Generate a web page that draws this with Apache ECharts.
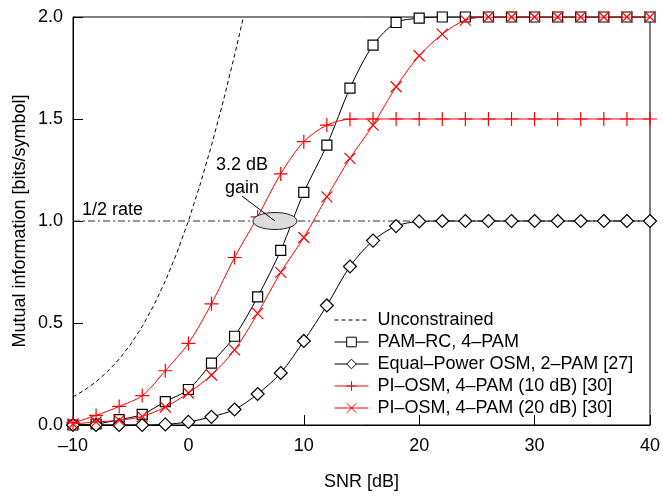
<!DOCTYPE html>
<html>
<head>
<meta charset="utf-8">
<script src="https://cdn.jsdelivr.net/npm/echarts@6/dist/echarts.min.js"></script>
<style>
html,body{margin:0;padding:0;background:#fff;}
#c{width:663px;height:496px;}
</style>
</head>
<body>
<div id="c"></div>
<script>
// SNR grid (dB) for the marked curves
const snr = [-10,-8,-6,-4,-2,0,2,4,6,8,10,12,14,16,18,20,22,24,26,28,30,32,34,36,38,40];
const pamRC = [0.0,0.005,0.026,0.052,0.115,0.174,0.303,0.435,0.628,0.856,1.14,1.372,1.651,1.862,1.973,1.994,2.0,2.0,2.0,2.0,2.0,2.0,2.0,2.0,2.0,2.0];
const eqOSM = [0.0,0.0,0.0,0.0,0.003,0.015,0.04,0.076,0.152,0.255,0.412,0.586,0.777,0.904,0.975,0.998,1.0,1.0,1.0,1.0,1.0,1.0,1.0,1.0,1.0,1.0];
const pi10 = [0.01,0.047,0.091,0.144,0.266,0.40,0.594,0.821,1.02,1.231,1.389,1.47,1.499,1.5,1.5,1.5,1.5,1.5,1.5,1.5,1.5,1.5,1.5,1.5,1.5,1.5];
const pi20 = [0.005,0.015,0.023,0.042,0.088,0.157,0.245,0.368,0.547,0.748,0.919,1.118,1.307,1.47,1.658,1.81,1.916,1.985,2.0,2.0,2.0,2.0,2.0,2.0,2.0,2.0];
// Unconstrained curve (dashed)
const uncX = [-10,-9,-8,-7,-6,-5,-4,-3,-2,-1,0,1,2,3,4,4.77];
const uncY = [0.138,0.171,0.212,0.262,0.323,0.396,0.483,0.586,0.706,0.843,1.0,1.176,1.37,1.583,1.812,2.0];
// half-rate reference line
const halfRateX = [-10,40];
const halfRateY = [1.0,1.0];
const legendNames = ['Unconstrained','PAM\u2013RC, 4\u2013PAM','Equal\u2013Power OSM, 2\u2013PAM [27]','PI\u2013OSM, 4\u2013PAM (10 dB) [30]','PI\u2013OSM, 4\u2013PAM (20 dB) [30]'];
const xTicks = [-10,0,10,20,30,40];
const yTicks = [0,0.5,1.0,1.5,2.0];
// annotation (data coords)
const gainCenter = [7.5,1.0];

const zip = (xs, ys) => xs.map((x,i)=>[x,ys[i]]);
const FONT = '"Liberation Sans", Arial, Helvetica, sans-serif';
const FS = 18;
const plusPath = 'path://M0,5 L10,5 M5,0 L5,10';
const crossPath = 'path://M0,0 L10,10 M10,0 L0,10';

const chart = echarts.init(document.getElementById('c'), null, {renderer:'canvas'});
const option = {
  animation:false,
  backgroundColor:'#fff',
  textStyle:{fontFamily:FONT},
  grid:{left:73,right:10,top:17,bottom:68,show:true,borderColor:'#000',borderWidth:1,backgroundColor:'transparent'},
  xAxis:{type:'value',min:-10,max:40,interval:10,
    name:'SNR [dB]',nameLocation:'middle',nameGap:48,nameMoveOverlap:false,
    nameTextStyle:{fontSize:FS,color:'#000',fontFamily:FONT},
    axisLine:{onZero:false,lineStyle:{color:'#000',width:1}},
    axisTick:{inside:true,length:10,lineStyle:{color:'#000'}},
    axisLabel:{fontSize:FS,color:'#000',margin:12,fontFamily:FONT,formatter:v=>String(v).replace('-','\u2013')},
    splitLine:{show:false}},
  yAxis:{type:'value',min:0,max:2,interval:0.5,
    name:'Mutual information [bits/symbol]',nameLocation:'middle',nameGap:44,nameMoveOverlap:false,
    nameTextStyle:{fontSize:FS,color:'#000',fontFamily:FONT},
    axisLine:{onZero:false,lineStyle:{color:'#000',width:1}},
    axisTick:{inside:true,length:10,lineStyle:{color:'#000'}},
    axisLabel:{fontSize:FS,color:'#000',margin:10,fontFamily:FONT,formatter:v=>v.toFixed(1)},
    splitLine:{show:false}},
  legend:{orient:'vertical',left:329,top:306,itemWidth:34,itemHeight:12,itemGap:4,
    data:[{name:legendNames[0],itemStyle:{opacity:0}}].concat(legendNames.slice(1)),
    lineStyle:{width:1},
    itemStyle:{borderWidth:1},
    textStyle:{fontSize:FS,lineHeight:18,color:'#000',fontFamily:FONT,padding:[0,0,0,4]}},
  series:[
    {name:'__half',type:'line',data:zip(halfRateX,halfRateY),showSymbol:false,symbol:'none',silent:true,
      lineStyle:{color:'#333',width:1,type:[7,3,2,3]},z:1},
    {name:legendNames[0],type:'line',data:zip(uncX,uncY),symbol:'none',
      lineStyle:{color:'#000',width:1,type:[4,3]},itemStyle:{color:'#000'},z:2},
    {name:legendNames[1],type:'line',data:zip(snr,pamRC),symbol:'rect',symbolSize:10,smooth:0.3,
      lineStyle:{color:'#000',width:1},itemStyle:{color:'#fff',borderColor:'#000',borderWidth:1.2},z:3},
    {name:legendNames[2],type:'line',data:zip(snr,eqOSM),symbol:'diamond',symbolSize:[13,13],smooth:0.3,
      lineStyle:{color:'#000',width:1},itemStyle:{color:'#fff',borderColor:'#000',borderWidth:1.2},z:3},
    {name:legendNames[3],type:'line',data:zip(snr,pi10),symbol:plusPath,symbolSize:14,smooth:0.3,
      lineStyle:{color:'#f00',width:1},itemStyle:{color:'none',borderColor:'#f00',borderWidth:1.2},z:4},
    {name:legendNames[4],type:'line',data:zip(snr,pi20),symbol:crossPath,symbolSize:11,smooth:0.3,
      lineStyle:{color:'#f00',width:1},itemStyle:{color:'none',borderColor:'#f00',borderWidth:1.2},z:5}
  ]
};
chart.setOption(option);

function drawAnnotations(){
  const c = chart.convertToPixel({gridIndex:0}, gainCenter);
  const rateL = chart.convertToPixel({gridIndex:0}, [-10,1.0]);
  chart.setOption({graphic:[
    {type:'ellipse',shape:{cx:c[0],cy:c[1],rx:22,ry:8.5},style:{fill:'#dcdcdc',stroke:'#222',lineWidth:1},z:10},
    {type:'line',shape:{x1:c[0]-33,y1:c[1]-25,x2:c[0],y2:c[1]},style:{stroke:'#000',lineWidth:1},z:11},
    {type:'text',x:c[0]-33,y:c[1]-56,style:{text:'3.2 dB',fontSize:FS,fontFamily:FONT,fill:'#000',align:'center',verticalAlign:'middle'},z:11},
    {type:'text',x:c[0]-33,y:c[1]-33,style:{text:'gain',fontSize:FS,fontFamily:FONT,fill:'#000',align:'center',verticalAlign:'middle'},z:11},
    {type:'text',x:rateL[0]+9,y:rateL[1]-11,style:{text:'1/2 rate',fontSize:FS,fontFamily:FONT,fill:'#000',align:'left',verticalAlign:'middle'},z:11}
  ]});
}
drawAnnotations();
</script>
</body>
</html>
